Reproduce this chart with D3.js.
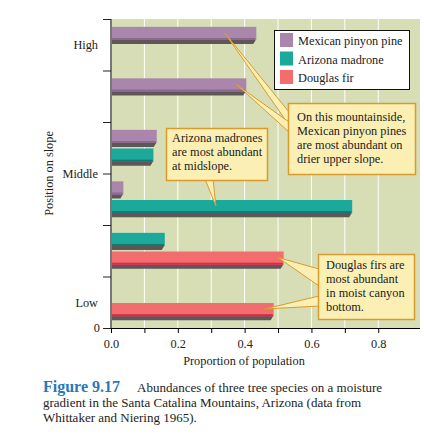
<!DOCTYPE html>
<html>
<head>
<meta charset="utf-8">
<script src="https://cdn.jsdelivr.net/npm/d3@7"></script>
<style>
  body { margin: 0; background: #fff; }
  text { font-family: "Liberation Serif", "DejaVu Serif", serif; }
</style>
</head>
<body>
<div id="chart"></div>
<script>
// sites from top of slope (1) down to canyon bottom (6)
const sites = [1, 2, 3, 4, 5, 6];
const species = ["Mexican pinyon pine", "Arizona madrone", "Douglas fir"];
const pinyon = [0.435, 0.405, 0.137, 0.037, 0, 0];
const madrone = [0, 0, 0.127, 0.722, 0.161, 0];
const fir = [0, 0, 0, 0, 0.517, 0.487];
const xTicks = [0, 0.1, 0.2, 0.3, 0.4, 0.5, 0.6, 0.7, 0.8];
const slopeLabels = ["Low", "Middle", "High"];
const slopeAt = [0.5, 3, 5.5];

const colors = ["#aa86ad", "#1aa99b", "#f26e6e"];
const edge = ["#8a6a8e", "#13796f", "#e2254a"];

const FS = 12.3;

const W = 424, H = 435;
const svg = d3.select("#chart").append("svg")
    .attr("width", W)
    .attr("height", H);

const x = d3.scaleLinear().domain([0, 0.925]).range([111, 420]);
const y = d3.scaleLinear().domain([0, 6]).range([328, 19]);
const siteBand = d3.scaleBand().domain(sites).range([19, 328]);
const slot = d3.scaleBand().domain([0, 1]).range([0, siteBand.step()])
    .paddingInner(0.08).paddingOuter(0.42);

// plot background
svg.append("rect")
    .attr("x", x(0)).attr("y", y(6))
    .attr("width", x(0.925) - x(0)).attr("height", y(0) - y(6))
    .attr("fill", "#d7deb6");

svg.append("g").selectAll("line")
    .data(xTicks.slice(1))
    .join("line")
    .attr("x1", d => x(d)).attr("x2", d => x(d))
    .attr("y1", y(6)).attr("y2", y(0))
    .attr("stroke", "#fff").attr("stroke-width", 1);

// bars: each site keeps two slots, fir sites shift species down one
const bars = [];
sites.forEach((s, i) => {
    const vals = [pinyon[i], madrone[i], fir[i]];
    const off = fir[i] > 0 ? 1 : 0;
    vals.forEach((v, k) => {
        if (v > 0) bars.push({site: s, sp: k, v: v, slot: k - off});
    });
});

const bh = slot.bandwidth();
const barG = svg.append("g");
bars.forEach(b => {
    const top = siteBand(b.site) + slot(b.slot);
    const x0 = x(0), x1 = x(b.v);
    // shadow
    barG.append("path")
        .attr("d", `M${x0},${top + bh - 5} L${x1},${top + bh - 5} L${x1 - 3},${top + bh} L${x0},${top + bh} Z`)
        .attr("fill", "#5e5657");
    barG.append("rect")
        .attr("x", x0).attr("y", top)
        .attr("width", x1 - x0).attr("height", bh - 4)
        .attr("fill", colors[b.sp]);
    barG.append("rect")
        .attr("x", x0).attr("y", top + bh - 6)
        .attr("width", x1 - x0 - 1).attr("height", 2)
        .attr("fill", edge[b.sp]);
});

// axes
const xAxis = svg.append("g")
    .attr("transform", `translate(0,${y(0)})`)
    .call(d3.axisBottom(x).tickValues(xTicks).tickSize(5)
        .tickFormat(d => (Math.round(d * 10) % 2 === 0) ? d3.format(".1f")(d) : ""));
xAxis.select(".domain").attr("d", `M${x(0) - 8},0.5H420`).attr("stroke", "#000");
xAxis.selectAll(".tick line").attr("stroke", "#000");
xAxis.selectAll("text").attr("font-size", FS).attr("font-family", "Liberation Serif")
    .attr("fill", "#222").attr("dy", "1em");

const yAxis = svg.append("g")
    .attr("transform", `translate(${x(0)},0)`)
    .call(d3.axisLeft(y).tickValues(d3.range(0, 7)).tickSize(8)
        .tickFormat(d => d === 0 ? "0" : ""));
yAxis.select(".domain").attr("d", `M0,${y(6)}V${y(0)}`).attr("stroke", "#777").attr("stroke-width", 2);
yAxis.selectAll(".tick line").attr("stroke", "#222");
yAxis.selectAll("text").attr("font-size", FS).attr("font-family", "Liberation Serif")
    .attr("fill", "#222").attr("x", -11);

svg.append("g").selectAll("text")
    .data(slopeLabels)
    .join("text")
    .attr("x", 98)
    .attr("y", (d, i) => y(slopeAt[i]) + 4.5)
    .attr("text-anchor", "end")
    .attr("font-size", FS)
    .attr("fill", "#222")
    .text(d => d);

svg.append("text")
    .attr("transform", `translate(53,${y(3)}) rotate(-90)`)
    .attr("text-anchor", "middle")
    .attr("font-size", FS)
    .attr("fill", "#222")
    .text("Position on slope");

svg.append("text")
    .attr("x", 244).attr("y", 365)
    .attr("text-anchor", "middle")
    .attr("font-size", FS)
    .attr("fill", "#222")
    .text("Proportion of population");

// legend
const leg = svg.append("g");
leg.append("rect")
    .attr("x", 274.5).attr("y", 30.5).attr("width", 135).attr("height", 59)
    .attr("fill", "#fff").attr("stroke", "#111");
species.forEach((s, i) => {
    leg.append("rect")
        .attr("x", 280).attr("y", 33 + i * 18.5)
        .attr("width", 13).attr("height", 14)
        .attr("fill", colors[i]);
    leg.append("text")
        .attr("x", 298).attr("y", 45 + i * 18.5)
        .attr("font-size", FS)
        .attr("fill", "#222")
        .text(s);
});

// callouts
const notes = [
    {box: [166, 128, 101, 52], lines: ["Arizona madrones", "are most abundant", "at midslope."],
     tx: 172, ty: 142,
     tips: [{at: [0.314, 4, 1], base: [[205, 179], [213, 179]]}]},
    {box: [288, 103, 127, 71], lines: ["On this mountainside,", "Mexican pinyon pines", "are most abundant on", "drier upper slope."],
     tx: 297, ty: 121,
     tips: [{at: [0.34, 1, 0], base: [[289, 112], [289, 125]]},
            {at: [0.375, 2, 0], base: [[289, 122], [289, 132]]}]},
    {box: [318, 254, 96, 65], lines: ["Douglas firs are", "most abundant", "in moist canyon", "bottom."],
     tx: 326, ty: 269,
     tips: [{at: [0.5, 5, 1], base: [[319, 269], [319, 286]]},
            {at: [0.46, 6, 1], base: [[319, 296], [319, 306]]}]}
];

const noteG = svg.append("g");
notes.forEach(n => {
    n.tips.forEach(t => {
        const tipX = x(t.at[0]);
        const tipY = siteBand(t.at[1]) + slot(t.at[2]) + slot.bandwidth() * 0.35;
        noteG.append("path")
            .attr("d", `M${t.base[0][0]},${t.base[0][1]} L${tipX},${tipY} L${t.base[1][0]},${t.base[1][1]} Z`)
            .attr("fill", "#fcefb3")
            .attr("stroke", "#d89b2e")
            .attr("stroke-width", 1);
    });
    noteG.append("rect")
        .attr("x", n.box[0] + 0.5).attr("y", n.box[1] + 0.5)
        .attr("width", n.box[2]).attr("height", n.box[3])
        .attr("fill", "#fcefb3")
        .attr("stroke", "#d89b2e")
        .attr("stroke-width", 1.5);
    noteG.append("text")
        .attr("font-size", FS)
        .attr("fill", "#222")
        .selectAll("tspan")
        .data(n.lines)
        .join("tspan")
        .attr("x", n.tx)
        .attr("y", (d, i) => n.ty + i * 14)
        .text(d => d);
});

// caption
const cap = svg.append("g");
cap.append("text")
    .attr("x", 43).attr("y", 392)
    .attr("font-size", 16)
    .attr("font-weight", 600)
    .attr("fill", "#2a78b8")
    .text("Figure 9.17");
const capLines = [
    [137, 392, "Abundances of three tree species on a moisture"],
    [43, 407, "gradient in the Santa Catalina Mountains, Arizona (data from"],
    [43, 422, "Whittaker and Niering 1965)."]
];
cap.selectAll("text.line")
    .data(capLines)
    .join("text")
    .attr("class", "line")
    .attr("x", d => d[0]).attr("y", d => d[1])
    .attr("font-size", 13)
    .attr("fill", "#222")
    .text(d => d[2]);
</script>
</body>
</html>
